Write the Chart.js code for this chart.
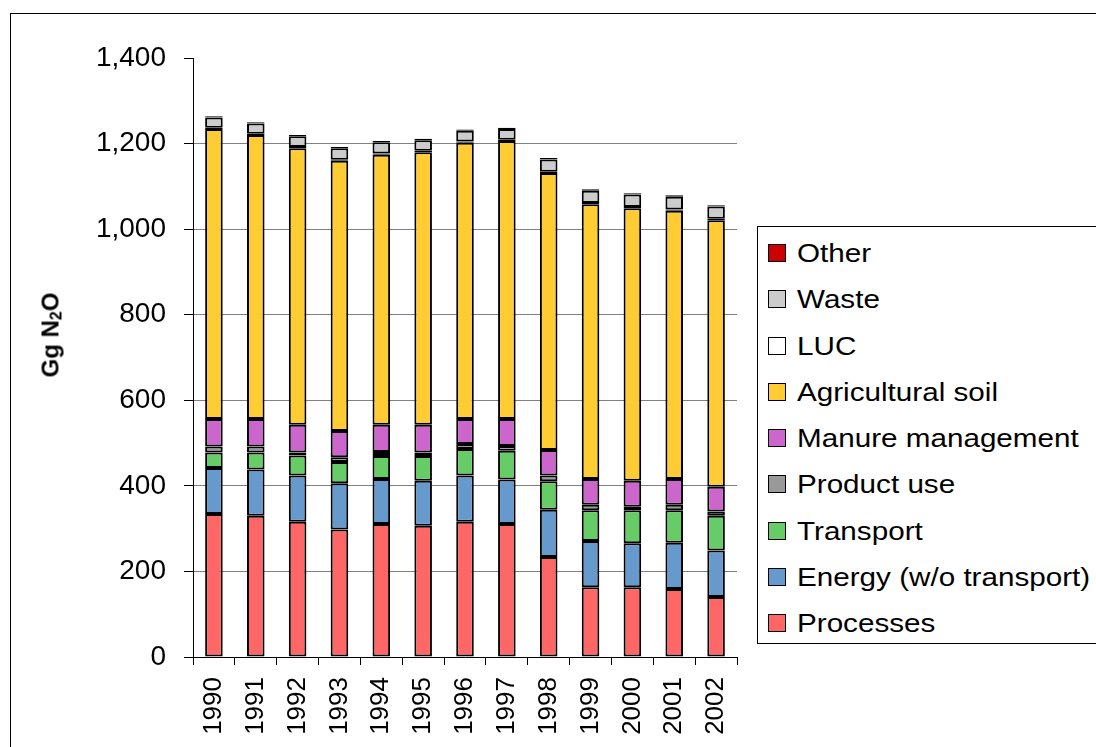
<!DOCTYPE html>
<html>
<head>
<meta charset="utf-8">
<script src="https://cdn.jsdelivr.net/npm/chart.js@4"></script>
<style>
html, body { margin: 0; padding: 0; background: #fff; overflow: hidden; }
#wrap { position: relative; width: 1096px; height: 747px; overflow: hidden; font-family: 'Liberation Sans', Arial, sans-serif; }
#frame { position: absolute; left: 10px; top: 13px; width: 1200px; height: 800px; border-left: 1.5px solid #000; border-top: 1.5px solid #000; }
#chart { position: absolute; left: 0; top: 0; }
#ytitle { position: absolute; left: 51px; top: 335px; transform: translate(-50%, -50%) rotate(-90deg); font-size: 24px; font-weight: bold; white-space: nowrap; color: #000; }
#ytitle sub { font-size: 16px; vertical-align: -3px; }
#legend { position: absolute; left: 757px; top: 226px; width: 400px; height: 416px; border: 1.5px solid #000; background: #fff; }
.lg-item { position: absolute; left: 10px; height: 30px; line-height: 30px; font-size: 26px; color: #000; white-space: nowrap; }
.lg-box { position: absolute; left: 0; top: 6px; width: 16px; height: 16px; border: 1.5px solid #000; }
.lg-text { position: absolute; left: 29px; top: 0; transform: scaleX(1.14); transform-origin: left center; }
</style>
</head>
<body>
<div id="wrap">
  <div id="frame"></div>
  <canvas id="chart" width="1096" height="747"></canvas>
  <div id="ytitle">Gg N<sub>2</sub>O</div>
  <div id="legend"></div>
</div>
<script>
(function() {

var years = ['1990', '1991', '1992', '1993', '1994', '1995', '1996', '1997', '1998', '1999', '2000', '2001', '2002'];

// Gg N2O per source
var processes  = [334, 330, 316, 298, 311, 307, 316, 311, 234, 163, 163, 159, 140];
var energy     = [108, 108, 108, 108, 105, 105, 108, 104, 110, 108, 103, 108, 109];
var transport  = [36, 40, 47, 50, 54, 58, 62, 67, 67, 72, 77, 76, 81];
var productUse = [14, 14, 7, 11, 9, 8, 12, 11, 13, 13, 8, 13, 10];
var manure     = [64, 64, 65, 61, 64, 65, 58, 63, 60, 60, 61, 60, 58];
var agriSoil   = [678, 664, 646, 632, 631, 637, 646, 650, 647, 642, 637, 627, 623];
var luc        = [3, 3, 3, 2, 3, 3, 3, 3, 3, 3, 3, 3, 3];
var waste      = [24, 24, 25, 27, 26, 25, 25, 25, 29, 29, 29, 30, 29];
var other      = [3, 3, 3, 3, 3, 3, 3, 3, 3, 3, 3, 3, 3];

var yTicks = [0, 200, 400, 600, 800, 1000, 1200, 1400];

var FONT = "'Liberation Sans', Arial, sans-serif";

function ds(label, data, color) {
    return {
        label: label, data: data, backgroundColor: color,
        borderColor: '#000', borderWidth: 2, borderSkipped: false,
        barPercentage: 0.42, categoryPercentage: 1
    };
}

var datasets = [
    ds('Processes', processes, '#FF6666'),
    ds('Energy (w/o transport)', energy, '#6699CC'),
    ds('Transport', transport, '#66CC66'),
    ds('Product use', productUse, '#999999'),
    ds('Manure management', manure, '#CC66CC'),
    ds('Agricultural soil', agriSoil, '#FFCC33'),
    ds('LUC', luc, '#FFFFFF'),
    ds('Waste', waste, '#CCCCCC'),
    ds('Other', other, '#CC0000')
];

var ctx = document.getElementById('chart').getContext('2d');
new Chart(ctx, {
    type: 'bar',
    data: { labels: years, datasets: datasets },
    options: {
        responsive: false,
        animation: false,
        devicePixelRatio: 1,
        layout: { padding: { left: 0, top: 58, right: 359, bottom: 0 } },
        plugins: { legend: { display: false }, tooltip: { enabled: false } },
        scales: {
            x: {
                stacked: true,
                offset: true,
                grid: { drawOnChartArea: false, drawTicks: true, tickLength: 8, offset: true, color: '#000', tickColor: '#000' },
                border: { color: '#000', width: 1 },
                ticks: {
                    color: '#000', font: { family: FONT, size: 26 },
                    minRotation: 90, maxRotation: 90, padding: 12, autoSkip: false
                },
                afterFit: function(s) { s.height = 90; }
            },
            y: {
                stacked: true,
                min: 0, max: 1400,
                afterBuildTicks: function(s) { s.ticks = yTicks.map(function(v) { return { value: v }; }); },
                grid: {
                    color: function(c) { return c.tick && (c.tick.value === 1400 || c.tick.value === 0) ? 'rgba(0,0,0,0)' : '#808080'; },
                    tickColor: '#000', tickLength: 9, lineWidth: 1
                },
                border: { color: '#000', width: 1 },
                ticks: {
                    color: '#000', font: { family: FONT, size: 28 }, padding: 18,
                    callback: function(v) { return v.toLocaleString('en-US'); }
                },
                afterFit: function(s) { s.width = 193; }
            }
        }
    }
});

// legend, reverse order like the original
var legend = document.getElementById('legend');
datasets.slice().reverse().forEach(function(d, i) {
    var item = document.createElement('div');
    item.className = 'lg-item';
    item.style.top = (11 + i * 46.25) + 'px';
    item.innerHTML = '<span class="lg-box" style="background:' + d.backgroundColor + '"></span>' +
        '<span class="lg-text">' + d.label + '</span>';
    legend.appendChild(item);
});

})();
</script>
</body>
</html>
